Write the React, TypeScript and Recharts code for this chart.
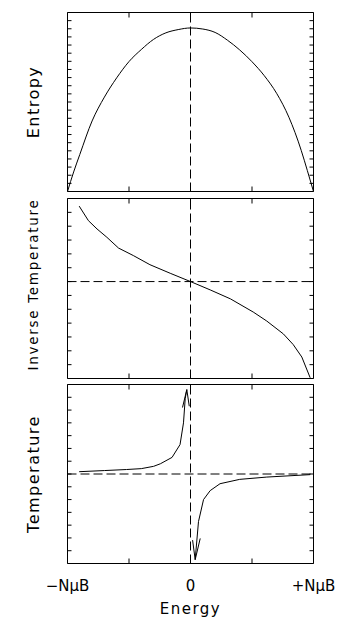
import React from "react";
import { LineChart, Line, XAxis, YAxis, ReferenceLine, Label } from "recharts";

const FONT = '"DejaVu Sans", sans-serif';

// energy axis: -NμB .. +NμB mapped to -1 .. 1
const energyTicks = [-1, -0.5, 0, 0.5, 1];
const energyLabelTicks = [-1, 0, 1];
const energyLabels = ["\u2212N\u03bcB", "0", "+N\u03bcB"];

// y ticks (arbitrary units, one unit per tick mark)
const entropyTicks = [1, 2, 3, 4, 5, 6, 7, 8, 9, 10, 11, 12, 13, 14, 15, 16, 17, 18, 19, 20, 21];
const invTempTicks = [-6, -5, -4, -3, -2, -1, 0, 1, 2, 3, 4, 5];
const tempTicks = [-6, -5, -4, -3, -2, -1, 0, 1, 2, 3, 4, 5, 6];

// entropy
const entropyX = [-1, -0.95, -0.9, -0.8, -0.7, -0.6, -0.5, -0.4, -0.3, -0.2, -0.1, 0, 0.1, 0.2, 0.3, 0.4, 0.5, 0.6, 0.7, 0.8, 0.9, 0.95, 1];
const entropyY = [0, 2.4, 4.55, 8.67, 11.6, 13.97, 15.97, 17.45, 18.7, 19.5, 19.9, 20.1, 19.97, 19.55, 18.6, 17.4, 15.95, 14.23, 12.07, 9.13, 5.06, 2.57, 0];

// inverse temperature
const invTempX = [-0.905, -0.83, -0.76, -0.68, -0.585, -0.465, -0.33, -0.165, 0, 0.16, 0.325, 0.51, 0.62, 0.755, 0.835, 0.905, 0.973];
const invTempY = [5.45, 4.4, 3.8, 3.2, 2.42, 1.88, 1.22, 0.6, 0, -0.6, -1.25, -2.2, -2.85, -3.78, -4.55, -5.45, -6.95];

// temperature, two branches plus arrow heads
const tempLeftX = [-0.905, -0.7, -0.52, -0.4, -0.3, -0.245, -0.15, -0.085, -0.057, -0.043, -0.03];
const tempLeftY = [0.18, 0.27, 0.35, 0.42, 0.6, 0.8, 1.3, 2.3, 4.0, 5.9, 6.6];
const tempRightX = [0.038, 0.065, 0.106, 0.16, 0.24, 0.4, 0.62, 0.973];
const tempRightY = [-6.7, -3.72, -2.0, -1.3, -0.76, -0.42, -0.24, -0.05];
const arrowUpX = [-0.065, -0.03, -0.01];
const arrowUpY = [5.2, 6.6, 5.3];
const arrowDownX = [0.017, 0.038, 0.079];
const arrowDownY = [-5.17, -6.7, -5.04];

type Pt = { x: number; y: number };
type Margin = { top: number; bottom: number; left: number; right: number };
const zip = (xs: number[], ys: number[]): Pt[] => xs.map((x, i) => ({ x, y: ys[i] }));

const W = 352;
const LEFT = 67.5;
const RIGHT = W - 313.5;
const PLOT_RIGHT = W - RIGHT;

// the top/right axes in this Recharts build draw their lines but no tick marks,
// so the bottom/left tick renderers also draw the matching mark on the opposite edge
const topTick = (plotTop: number) => (p: any) => (
  <line x1={p.x} x2={p.x} y1={plotTop} y2={plotTop + 5} stroke="#000" />
);
const rightTick = (p: any) => <line x1={PLOT_RIGHT} x2={PLOT_RIGHT - 4} y1={p.y} y2={p.y} stroke="#000" />;

function frame(margin: Margin, yDomain: number[], yTicks: number[], label: string, labelStyle: React.CSSProperties, labelDy = 0) {
  const common = { type: "number" as const, allowDataOverflow: true, mirror: true, interval: 0, stroke: "#000" };
  return [
    <XAxis key="xb" {...common} dataKey="x" domain={[-1, 1]} ticks={energyTicks} orientation="bottom" tickSize={5} tick={topTick(margin.top)} />,
    <XAxis key="xt" {...common} xAxisId="top" dataKey="x" domain={[-1, 1]} ticks={energyTicks} orientation="top" tick={false} tickLine={false} />,
    <YAxis key="yl" {...common} dataKey="y" domain={yDomain} ticks={yTicks} orientation="left" tickSize={4} tick={rightTick}>
      <Label value={label} angle={-90} position="left" offset={34} dy={labelDy} style={{ textAnchor: "middle", fill: "#000", fontFamily: FONT, ...labelStyle }} />
    </YAxis>,
    <YAxis key="yr" {...common} yAxisId="right" dataKey="y" domain={yDomain} ticks={yTicks} orientation="right" tick={false} tickLine={false} />,
    <ReferenceLine key="rx" x={0} stroke="#000" strokeDasharray="9 4" />,
  ];
}

const lineProps = { dataKey: "y", stroke: "#000", strokeWidth: 1, dot: false, isAnimationActive: false };

const m1: Margin = { top: 12.5, bottom: 3.5, left: LEFT, right: RIGHT };
const m2: Margin = { top: 3.5, bottom: 4.5, left: LEFT, right: RIGHT };
const m3: Margin = { top: 1.5, bottom: 12.5, left: LEFT, right: RIGHT };

export default function App() {
  const entropyData = zip(entropyX, entropyY);
  const invTempData = zip(invTempX, invTempY);
  const tempLeftData = zip(tempLeftX, tempLeftY);
  return (
    <div style={{ position: "absolute", top: 0, left: 0, width: W, height: 626, background: "#fff" }}>
      <div style={{ position: "absolute", top: 0, left: 0 }}>
        <LineChart width={W} height={195} margin={m1}>
          {frame(m1, [0, 22], entropyTicks, "Entropy", { fontSize: 16, letterSpacing: 1.5 })}
          <Line {...lineProps} data={entropyData} type="monotone" />
        </LineChart>
      </div>
      <div style={{ position: "absolute", top: 195, left: 0 }}>
        <LineChart width={W} height={188} margin={m2}>
          {frame(m2, [-7, 6], invTempTicks, "Inverse Temperature", { fontSize: 13.5, letterSpacing: 1.7 }, -4)}
          <ReferenceLine y={0} stroke="#000" strokeDasharray="9 4" />
          <Line {...lineProps} data={invTempData} type="linear" />
        </LineChart>
      </div>
      <div style={{ position: "absolute", top: 383, left: 0 }}>
        <LineChart width={W} height={243} margin={m3}>
          {frame(m3, [-7, 7], tempTicks, "Temperature", { fontSize: 16, letterSpacing: 1.5 })}
          <XAxis
            xAxisId="lab"
            dataKey="x"
            type="number"
            allowDataOverflow
            domain={[-1, 1]}
            ticks={energyLabelTicks}
            interval={0}
            tickFormatter={(v: number) => energyLabels[energyLabelTicks.indexOf(v)]}
            axisLine={false}
            tickLine={false}
            tickMargin={11}
            height={50}
            tick={{ fill: "#000", fontSize: 15, fontFamily: FONT }}
          >
            <Label value="Energy" position="insideBottom" offset={0} style={{ fill: "#000", fontSize: 15, letterSpacing: 1.5, fontFamily: FONT }} />
          </XAxis>
          <ReferenceLine y={0} stroke="#000" strokeDasharray="9 4" />
          <Line {...lineProps} data={tempLeftData} type="linear" />
          <Line {...lineProps} data={zip(arrowUpX, arrowUpY)} type="linear" />
          <Line {...lineProps} data={zip(tempRightX, tempRightY)} type="linear" />
          <Line {...lineProps} data={zip(arrowDownX, arrowDownY)} type="linear" />
        </LineChart>
      </div>
    </div>
  );
}
